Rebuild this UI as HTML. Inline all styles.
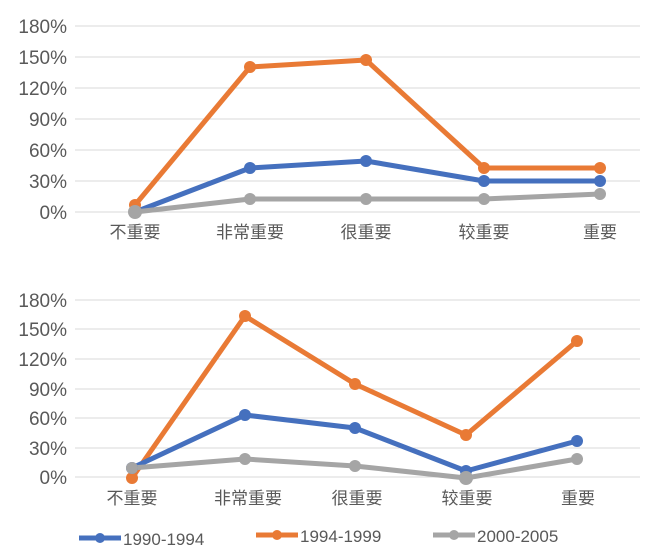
<!DOCTYPE html>
<html><head><meta charset="utf-8"><style>
html,body{margin:0;padding:0;background:#fff;}
svg text{font-family:"Liberation Sans","Noto Sans CJK SC",sans-serif;}
</style></head><body>
<svg width="650" height="553" viewBox="0 0 650 553" xmlns="http://www.w3.org/2000/svg">
<g stroke="#d9d9d9" stroke-width="1">
<line x1="75" x2="640" y1="26" y2="26"/><line x1="75" x2="640" y1="57" y2="57"/><line x1="75" x2="640" y1="88" y2="88"/><line x1="75" x2="640" y1="119" y2="119"/><line x1="75" x2="640" y1="150" y2="150"/><line x1="75" x2="640" y1="181" y2="181"/><line x1="75" x2="640" y1="212" y2="212"/>
<line x1="75" x2="640" y1="300" y2="300"/><line x1="75" x2="640" y1="329" y2="329"/><line x1="75" x2="640" y1="359" y2="359"/><line x1="75" x2="640" y1="389" y2="389"/><line x1="75" x2="640" y1="418" y2="418"/><line x1="75" x2="640" y1="448" y2="448"/><line x1="75" x2="640" y1="477" y2="477"/>
</g>
<g fill="#595959" font-size="19" text-anchor="end">
<text x="67" y="33">180%</text><text x="67" y="64">150%</text><text x="67" y="95">120%</text><text x="67" y="126">90%</text><text x="67" y="157">60%</text><text x="67" y="188">30%</text><text x="67" y="219">0%</text>
<text x="67" y="307">180%</text><text x="67" y="336">150%</text><text x="67" y="366">120%</text><text x="67" y="396">90%</text><text x="67" y="425">60%</text><text x="67" y="455">30%</text><text x="67" y="484">0%</text>
</g>
<g fill="#595959" font-size="17" text-anchor="middle">
<text x="135" y="238">不重要</text><text x="250" y="238">非常重要</text><text x="366" y="238">很重要</text><text x="484" y="238">较重要</text><text x="600" y="238">重要</text>
<text x="132" y="504">不重要</text><text x="248" y="504">非常重要</text><text x="357" y="504">很重要</text><text x="467" y="504">较重要</text><text x="578" y="504">重要</text>
</g>
<g fill="none" stroke-width="5" stroke-linejoin="round">
<polyline stroke="#e97a35" points="135,205 250,67 366,60 484,168 600,168"/>
<polyline stroke="#4570be" points="135,212 250,168 366,161 484,181 600,181"/>
<polyline stroke="#a5a5a5" points="135,212 250,199 366,199 484,199 600,194"/>
<polyline stroke="#e97a35" points="132,478 245,316 355,384 466,435 577,341"/>
<polyline stroke="#4570be" points="132,468 245,415 355,428 466,471 577,441"/>
<polyline stroke="#a5a5a5" points="132,468 245,459 355,466 466,478 577,459"/>
</g>
<g>
<g fill="#e97a35"><circle cx="135" cy="205" r="6"/><circle cx="250" cy="67" r="6"/><circle cx="366" cy="60" r="6"/><circle cx="484" cy="168" r="6"/><circle cx="600" cy="168" r="6"/><circle cx="132" cy="478" r="6"/><circle cx="245" cy="316" r="6"/><circle cx="355" cy="384" r="6"/><circle cx="466" cy="435" r="6"/><circle cx="577" cy="341" r="6"/></g>
<g fill="#4570be"><circle cx="250" cy="168" r="6"/><circle cx="366" cy="161" r="6"/><circle cx="484" cy="181" r="6"/><circle cx="600" cy="181" r="6"/><circle cx="132" cy="468" r="6"/><circle cx="245" cy="415" r="6"/><circle cx="355" cy="428" r="6"/><circle cx="466" cy="471" r="6"/><circle cx="577" cy="441" r="6"/></g>
<g fill="#a5a5a5"><circle cx="135" cy="212" r="7"/><circle cx="250" cy="199" r="6"/><circle cx="366" cy="199" r="6"/><circle cx="484" cy="199" r="6"/><circle cx="600" cy="194" r="6"/><circle cx="132" cy="468" r="6"/><circle cx="245" cy="459" r="6"/><circle cx="355" cy="466" r="6"/><circle cx="466" cy="478" r="7"/><circle cx="577" cy="459" r="6"/></g>
</g>
<g stroke-width="5">
<line x1="79" x2="121" y1="538" y2="538" stroke="#4570be"/><circle cx="100" cy="538" r="5" fill="#4570be"/>
<line x1="256" x2="298" y1="535" y2="535" stroke="#e97a35"/><circle cx="277" cy="535" r="5" fill="#e97a35"/>
<line x1="433" x2="475" y1="535" y2="535" stroke="#a5a5a5"/><circle cx="454" cy="535" r="5" fill="#a5a5a5"/>
</g>
<g fill="#595959" font-size="17">
<text x="123" y="545">1990-1994</text><text x="300" y="542">1994-1999</text><text x="477" y="542">2000-2005</text>
</g>
</svg>
</body></html>
